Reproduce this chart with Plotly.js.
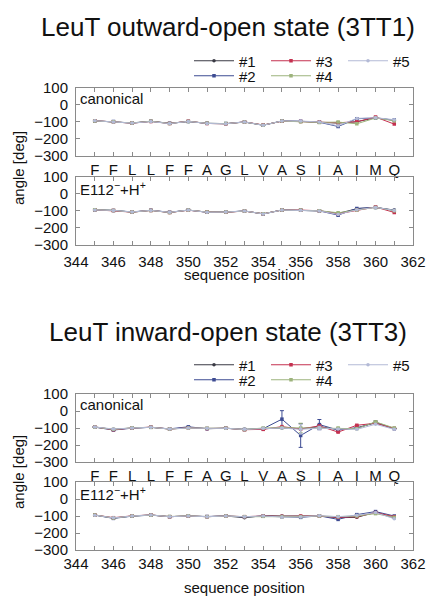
<!DOCTYPE html>
<html>
<head>
<meta charset="utf-8">
<script src="https://cdn.plot.ly/plotly-3.0.1.min.js"></script>
<style>html,body{margin:0;padding:0;background:#fff;}#chart{width:430px;height:597px;}</style>
</head>
<body>
<div id="chart"></div>
<script>
// ---------- data ----------
const positions = [345,346,347,348,349,350,351,352,353,354,355,356,357,358,359,360,361];
const residues  = ['F','F','L','L','F','F','A','G','L','V','A','S','I','A','I','M','Q'];
const numTickVals = [344,345,346,347,348,349,350,351,352,353,354,355,356,357,358,359,360,361,362];
const numTickText = ['344','','346','','348','','350','','352','','354','','356','','358','','360','','362'];
const seriesNames = ['#1','#2','#3','#4','#5'];
const panelLabels = ['canonical','E112<sup>−</sup>+H<sup>+</sup>','canonical','E112<sup>−</sup>+H<sup>+</sup>'];
const stateTitles = ['LeuT outward-open state (3TT1)','LeuT inward-open state (3TT3)'];

// outward-open, canonical
const outCan1 = [-94,-100,-108,-98,-110,-98,-110,-112,-102,-120,-96,-98,-102,-108,-100,-76,-92];
const outCan2 = [-95,-99,-107,-97,-109,-99,-109,-111,-101,-121,-95,-97,-103,-128,-82,-78,-90];
const outCan3 = [-94,-100,-108,-98,-110,-97,-110,-112,-101,-119,-97,-99,-102,-106,-100,-72,-114];
const outCan4 = [-95,-100,-107,-97,-110,-98,-109,-111,-102,-120,-96,-100,-104,-102,-112,-78,-94];
const outCan5 = [-94,-101,-108,-99,-111,-98,-110,-112,-101,-121,-95,-96,-101,-124,-80,-76,-88];
// outward-open, E112-/H+
const outE1 = [-94,-98,-108,-98,-110,-96,-108,-108,-102,-118,-96,-96,-100,-116,-88,-80,-96];
const outE2 = [-95,-98,-107,-97,-109,-96,-109,-108,-101,-119,-95,-97,-101,-126,-86,-80,-98];
const outE3 = [-94,-99,-108,-98,-110,-97,-108,-109,-102,-118,-96,-96,-100,-118,-96,-78,-110];
const outE4 = [-94,-98,-108,-98,-110,-96,-108,-108,-102,-118,-96,-96,-100,-112,-96,-80,-100];
const outE5 = [-95,-98,-107,-98,-109,-96,-109,-108,-101,-119,-96,-97,-101,-122,-94,-80,-98];
// inward-open, canonical
const inCan1 = [-94,-108,-100,-96,-106,-98,-104,-102,-108,-106,-100,-104,-92,-110,-102,-66,-104];
const inCan2 = [-95,-112,-101,-96,-105,-93,-104,-101,-109,-104,-48,-144,-80,-112,-98,-70,-104];
const inCan3 = [-94,-110,-100,-95,-106,-99,-103,-101,-110,-108,-92,-106,-88,-124,-84,-72,-102];
const inCan4 = [-95,-108,-99,-96,-106,-100,-101,-101,-109,-100,-98,-100,-98,-100,-104,-64,-100];
const inCan5 = [-94,-106,-100,-96,-106,-100,-102,-102,-108,-102,-100,-108,-100,-106,-108,-78,-108];
// inward-open canonical error bars
const inCanErr1 = [0,0,0,0,0,0,0,0,0,0,0,0,12,0,0,8,0];
const inCanErr2 = [0,0,0,0,0,0,0,0,0,0,50,70,30,0,0,0,0];
const inCanErr3 = [0,0,0,0,0,0,0,0,0,0,0,0,0,0,0,0,0];
const inCanErr4 = [0,0,0,0,0,0,0,0,0,0,0,28,0,0,0,0,0];
const inCanErr5 = [0,0,0,0,0,0,0,0,0,0,0,28,10,0,0,0,0];
// inward-open, E112-/H+
const inE1 = [-94,-112,-100,-94,-104,-100,-104,-100,-110,-98,-100,-102,-100,-110,-108,-78,-112];
const inE2 = [-95,-114,-101,-95,-104,-100,-103,-99,-106,-101,-104,-108,-99,-120,-92,-74,-100];
const inE3 = [-94,-110,-99,-94,-104,-100,-104,-100,-104,-100,-102,-100,-100,-108,-104,-80,-104];
const inE4 = [-94,-112,-100,-95,-103,-99,-104,-100,-104,-102,-104,-104,-100,-104,-100,-86,-108];
const inE5 = [-95,-111,-100,-94,-104,-100,-104,-100,-104,-100,-106,-106,-98,-104,-96,-80,-116];

// ---------- styling ----------
const colors = ['#3a3a44','#3d4b92','#c4304f','#9db37c','#b3bad6'];
const symbols = ['circle','square','square','square','circle'];
const FONT = 'Liberation Sans, Arial, sans-serif';
const W = 430, H = 597;
const px = v => v / W;
const py = v => 1 - v / H;

const panels = [
  {series:[outCan1,outCan2,outCan3,outCan4,outCan5], errs:null, top:88, bot:155.5, letters:true, standoff:0},
  {series:[outE1,outE2,outE3,outE4,outE5], errs:null, top:177, bot:244.5, letters:false, standoff:3},
  {series:[inCan1,inCan2,inCan3,inCan4,inCan5], errs:[inCanErr1,inCanErr2,inCanErr3,inCanErr4,inCanErr5], top:394, bot:462, letters:true, standoff:0},
  {series:[inE1,inE2,inE3,inE4,inE5], errs:null, top:482, bot:550, letters:false, standoff:0}
];
// legend assignment: row 1 (#1,#3,#5), row 2 (#2,#4)
const legendRow = [0,1,0,1,0];

const data = [];
panels.forEach((p, pi) => {
  const sfx = pi === 0 ? '' : String(pi + 1);
  p.series.forEach((vals, si) => {
    const showLeg = (pi === 0 || pi === 2);
    let legId = 'legend';
    if (pi === 0) legId = legendRow[si] === 0 ? 'legend' : 'legend2';
    if (pi === 2) legId = legendRow[si] === 0 ? 'legend3' : 'legend4';
    const tr = {
      type:'scatter', mode:'lines+markers',
      x: positions, y: vals,
      xaxis:'x' + sfx, yaxis:'y' + sfx,
      name: seriesNames[si],
      line:{color:colors[si], width:1},
      marker:{color:colors[si], size:3.5, symbol:symbols[si]},
      showlegend: showLeg,
      legend: legId,
      hoverinfo:'skip'
    };
    if (p.errs) {
      tr.error_y = {type:'data', array:p.errs[si], visible:true, color:colors[si], thickness:1, width:2};
    }
    data.push(tr);
  });
});

const xDomain = [px(76), px(413)];
const axisLine = '#8a8a8a';
const layout = {
  width: W, height: H,
  margin:{l:0,r:0,t:0,b:0, autoexpand:false},
  paper_bgcolor:'#fff', plot_bgcolor:'#fff',
  font:{family:FONT, size:15, color:'#111'},
  annotations:[]
};

panels.forEach((p, pi) => {
  const sfx = pi === 0 ? '' : String(pi + 1);
  const xa = {
    domain:xDomain, anchor:'y' + sfx, range:[344,362],
    showline:true, linecolor:axisLine, linewidth:1, mirror:'ticks',
    ticks:'inside', ticklen:4, tickcolor:axisLine,
    showgrid:false, zeroline:false, automargin:false,
    tickfont:{family:FONT, size:15, color:'#111'},
    tickmode:'array', ticklabelstandoff:p.standoff
  };
  if (p.letters) { xa.tickvals = positions; xa.ticktext = residues; }
  else { xa.tickvals = numTickVals; xa.ticktext = numTickText; }
  const ya = {
    domain:[py(p.bot), py(p.top)], anchor:'x' + sfx, range:[-300,100],
    tickmode:'linear', tick0:-300, dtick:100,
    showline:true, linecolor:axisLine, linewidth:1, mirror:'ticks',
    ticks:'inside', ticklen:4, tickcolor:axisLine,
    showgrid:false, zeroline:false, automargin:false,
    tickfont:{family:FONT, size:15, color:'#111'},
    ticklabelstandoff: 4
  };
  layout['xaxis' + sfx] = xa;
  layout['yaxis' + sfx] = ya;
  layout.annotations.push({
    xref:'paper', yref:'paper', x:px(78), y:py(p.top), xanchor:'left', yanchor:'top',
    text:panelLabels[pi], showarrow:false, font:{family:FONT, size:15, color:'#111'}
  });
});

// titles, axis titles
[[27,stateTitles[0]],[332,stateTitles[1]]].forEach(([yy,t]) => {
  layout.annotations.push({xref:'paper', yref:'paper', x:px(228), y:py(yy), xanchor:'center', yanchor:'middle',
    text:t, showarrow:false, font:{family:FONT, size:26, color:'#111'}});
});
[274,587].forEach(yy => {
  layout.annotations.push({xref:'paper', yref:'paper', x:px(244.5), y:py(yy), xanchor:'center', yanchor:'middle',
    text:'sequence position', showarrow:false, font:{family:FONT, size:15, color:'#111'}});
});
[168,472].forEach(yy => {
  layout.annotations.push({xref:'paper', yref:'paper', x:px(18), y:py(yy), xanchor:'center', yanchor:'middle',
    text:'angle [deg]', textangle:-90, showarrow:false, font:{family:FONT, size:15, color:'#111'}});
});

// legends
const legBase = {orientation:'h', xanchor:'left', yanchor:'middle', x:px(189),
  itemwidth:40, entrywidth:22, font:{family:FONT, size:15, color:'#111'},
  bgcolor:'rgba(0,0,0,0)', borderwidth:0, tracegroupgap:0, itemclick:false, itemdoubleclick:false};
layout.legend  = Object.assign({}, legBase, {y:py(61)});
layout.legend2 = Object.assign({}, legBase, {y:py(76)});
layout.legend3 = Object.assign({}, legBase, {y:py(365)});
layout.legend4 = Object.assign({}, legBase, {y:py(380)});

Plotly.newPlot('chart', data, layout, {displayModeBar:false, staticPlot:true});
</script>
</body>
</html>
